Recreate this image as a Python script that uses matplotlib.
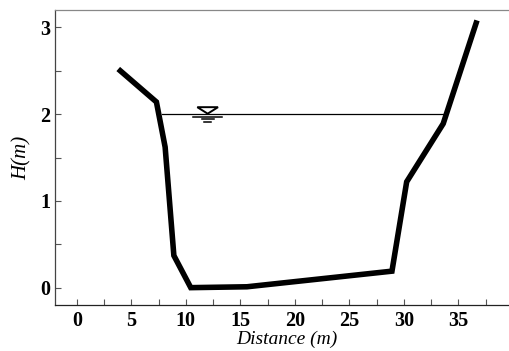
import matplotlib
matplotlib.use("Agg")
import matplotlib.pyplot as plt
from matplotlib.ticker import MultipleLocator
from matplotlib.patches import Polygon

# Cross-section profile
distance = [3.8, 7.3, 8.1, 8.9, 10.45, 15.6, 28.9, 30.25, 33.6, 36.7]
height = [2.52, 2.14, 1.62, 0.37, 0.0, 0.01, 0.19, 1.22, 1.89, 3.08]

# Water surface
water_x = [7.8, 33.6]
water_level = 2.0
symbol_x = 12.0

x_ticks = [0, 5, 10, 15, 20, 25, 30, 35]
y_ticks = [0, 1, 2, 3]

plt.rcParams['font.family'] = ['Liberation Serif', 'DejaVu Serif']

fig = plt.figure(figsize=(5.09, 3.51), dpi=100)
ax = fig.add_axes([55 / 509, 1 - 305 / 351, (513 - 55) / 509, (305 - 10) / 351])

ax.plot(distance, height, color='black', lw=4.0, solid_joinstyle='miter', solid_capstyle='butt', zorder=3)
ax.plot(water_x, [water_level, water_level], color='black', lw=0.9, zorder=2)

# water level symbol (inverted triangle with lines)
tri = Polygon([[symbol_x - 0.95, water_level + 0.08], [symbol_x + 0.95, water_level + 0.08],
               [symbol_x, water_level + 0.005]], closed=True, facecolor='white',
              edgecolor='black', lw=1.4, zorder=4)
ax.add_patch(tri)
ax.plot([symbol_x - 1.3, symbol_x + 1.3], [water_level - 0.03] * 2, color='black', lw=1.1, zorder=4)
ax.plot([symbol_x - 0.55, symbol_x + 0.55], [water_level - 0.06] * 2, color='black', lw=1.1, zorder=4)
ax.plot([symbol_x - 0.3, symbol_x + 0.3], [water_level - 0.09] * 2, color='black', lw=1.1, zorder=4)

ax.set_xlim(-2, 40)
ax.set_ylim(-0.2, 3.2)
ax.set_xticks(x_ticks)
ax.set_yticks(y_ticks)
ax.xaxis.set_minor_locator(MultipleLocator(2.5))
ax.yaxis.set_minor_locator(MultipleLocator(0.5))
ax.tick_params(which='both', direction='in', length=4, width=0.8, color='#555555',
               labelsize=14.5, top=False, right=False)
ax.tick_params(axis='x', pad=4)
for lab in ax.get_xticklabels() + ax.get_yticklabels():
    lab.set_fontweight('bold')

ax.spines['right'].set_visible(False)
ax.spines['top'].set_color('#888888')
ax.spines['left'].set_color('#444444')
ax.spines['bottom'].set_color('#222222')
for s in ax.spines.values():
    s.set_linewidth(0.9)

ax.set_xlabel('Distance (m)', fontsize=14, fontstyle='italic')
ax.xaxis.set_label_coords((287 - 55) / 458, (305 - 331) / 295)
ax.set_ylabel('H(m)', fontsize=15, fontstyle='italic', labelpad=6)

fig.savefig('out.png', dpi=100)
